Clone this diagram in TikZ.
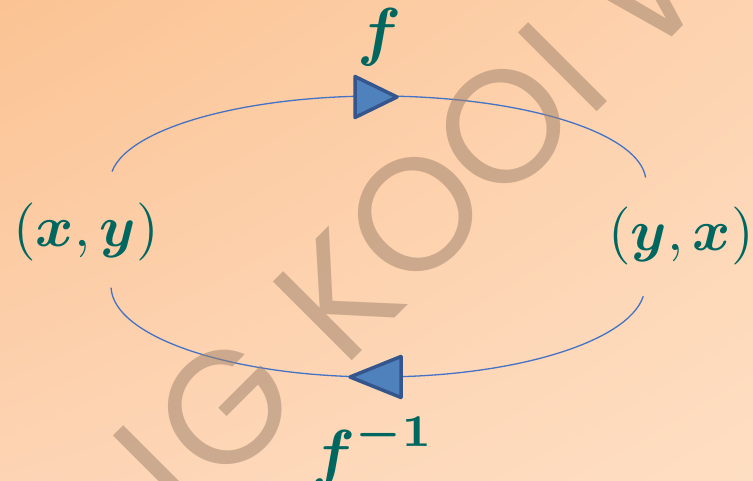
\documentclass[tikz,border=0pt]{standalone}
\usepackage{amsmath}
\usepackage{fontspec}
\newfontfamily\markfont{Poppins}
\usetikzlibrary{positioning, shadings}
\definecolor{bgA}{RGB}{251,195,147}
\definecolor{bgB}{RGB}{253,211,176}
\definecolor{bgC}{RGB}{253,212,180}
\definecolor{bgD}{RGB}{254,222,194}
\definecolor{arcBlue}{RGB}{68,114,196}
\definecolor{headFill}{RGB}{79,129,189}
\definecolor{headLine}{RGB}{52,86,140}
\definecolor{labelTeal}{RGB}{0,102,96}
\definecolor{markBrown}{RGB}{157,128,106}

\tikzset{
  loop arc/.style={draw=arcBlue, line width=1.3pt},
  dir head/.style={draw=headLine, fill=headFill, line width=3.5pt, line join=round},
  pair label/.style={text=labelTeal, scale=5.8, inner sep=0pt},
  map label/.style={pair label, scale=1.12},
  mark letter/.style={text=markBrown, text opacity=0.5, rotate=45, inner sep=0pt,
    font=\markfont\fontsize{160}{160}\selectfont},
}

\begin{document}
\begin{tikzpicture}[x=1pt, y=-1pt]
  % --- backdrop ---
  \shade[upper left=bgA, upper right=bgB, lower left=bgC, lower right=bgD] (0,0) rectangle (753,481);
  \useasboundingbox (0,0) rectangle (753,481);

  % --- the two loops ---
  \coordinate (top c) at (378,182);
  \coordinate (low c) at (378,286);
  \draw[loop arc] (top c) ++(187:268 and 86) arc[start angle=187, end angle=357, x radius=268, y radius=86];
  \draw[loop arc] (low c) ++(179:267 and 91) arc[start angle=179, end angle=6.5, x radius=267, y radius=91];

  % direction heads
  \coordinate (top tip) at (397,97);
  \coordinate (low tip) at (350,377);
  \draw[dir head] (top tip) -- ++(-42,-20.5) -- ++(0,41) -- cycle;
  \draw[dir head] (low tip) -- ++(51,-20.5) -- ++(0,41) -- cycle;

  % --- watermark ---
  \begin{scope}
    \clip (0,0) rectangle (753,481);
    \foreach \ch/\px/\py [count=\i] in {I/158/470, G/225/408, K/338/296, O/415/215, O/503/127, I/563/67, W/663/-33}
      \node[mark letter] (mark\i) at (\px,\py) {\ch};
  \end{scope}

  % --- labels ---
  \node[pair label] (xy) at (86,232) {$(\boldsymbol{x},\boldsymbol{y})$};
  \node[pair label] (yx) at (681,236) {$(\boldsymbol{y},\boldsymbol{x})$};
  \node[map label] (f) at (380,37) {$\boldsymbol{f}$};
  \node[map label] (finv) at (373,452) {$\boldsymbol{f}^{\boldsymbol{-1}}$};
\end{tikzpicture}
\end{document}
